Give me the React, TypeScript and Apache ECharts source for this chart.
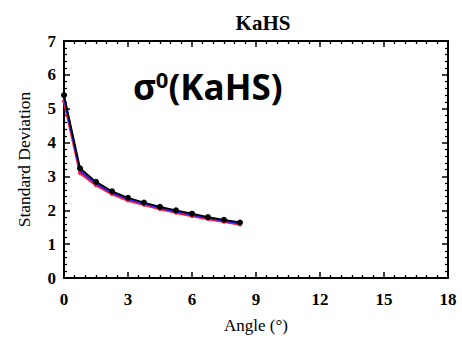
import React, { useEffect, useRef } from "react";
import * as echarts from "echarts";

const angles = [0, 0.75, 1.5, 2.25, 3.0, 3.75, 4.5, 5.25, 6.0, 6.75, 7.5, 8.25];
const blackVals = [5.4, 3.24, 2.84, 2.56, 2.37, 2.23, 2.1, 2.0, 1.9, 1.8, 1.72, 1.64];
const blueVals = [5.32, 3.17, 2.79, 2.52, 2.33, 2.2, 2.07, 1.96, 1.87, 1.77, 1.69, 1.61];
const redVals = [5.22, 3.1, 2.74, 2.48, 2.29, 2.16, 2.04, 1.93, 1.83, 1.74, 1.66, 1.58];
const xTicks = [0, 3, 6, 9, 12, 15, 18];
const yTicks = [0, 1, 2, 3, 4, 5, 6, 7];

const serif = "'Liberation Serif', 'DejaVu Serif', serif";

export default function App() {
  const ref = useRef<HTMLDivElement>(null);
  useEffect(() => {
    if (!ref.current) return;
    const chart = echarts.init(ref.current, null, { renderer: "svg" });
    const pair = (ys: number[]) => angles.map((a, i) => [a, ys[i]]);
    const axisCommon = {
      axisLine: { show: true, onZero: false, lineStyle: { color: "#000", width: 2 } },
      axisTick: { show: true, inside: true, length: 6, lineStyle: { color: "#000", width: 1.5 } },
      minorTick: { show: true, length: 3, lineStyle: { color: "#000", width: 1.3 } },
      splitLine: { show: false },
    };
    chart.setOption({
      animation: false,
      title: {
        text: "KaHS",
        left: 258,
        textAlign: "center",
        top: 7,
        textStyle: { fontFamily: serif, fontWeight: "bold", fontSize: 21, color: "#000" },
      },
      grid: { left: 64, right: 14, top: 41, bottom: 62 },
      xAxis: [
        {
          type: "value",
          min: 0,
          max: 18,
          interval: 3,
          name: "Angle (°)",
          nameLocation: "middle",
          nameGap: 39,
          nameTextStyle: { fontFamily: serif, fontSize: 17, color: "#000" },
          axisLabel: {
            fontFamily: serif,
            fontWeight: "bold",
            fontSize: 17,
            color: "#000",
            margin: 13,
            formatter: (v: number) => (xTicks.includes(v) ? String(v) : ""),
          },
          ...axisCommon,
          minorTick: { ...axisCommon.minorTick, splitNumber: 6 },
        },
        {
          type: "value",
          position: "top",
          min: 0,
          max: 18,
          interval: 3,
          axisLabel: { show: false },
          ...axisCommon,
          minorTick: { ...axisCommon.minorTick, splitNumber: 6 },
        },
      ],
      yAxis: [
        {
          type: "value",
          min: 0,
          max: 7,
          interval: 1,
          name: "Standard Deviation",
          nameLocation: "middle",
          nameGap: 31,
          nameTextStyle: { fontFamily: serif, fontSize: 17.5, color: "#000" },
          axisLabel: {
            fontFamily: serif,
            fontWeight: "bold",
            fontSize: 17,
            color: "#000",
            margin: 8,
            formatter: (v: number) => (yTicks.includes(v) ? String(v) : ""),
          },
          ...axisCommon,
          minorTick: { ...axisCommon.minorTick, splitNumber: 5 },
        },
        {
          type: "value",
          position: "right",
          min: 0,
          max: 7,
          interval: 1,
          axisLabel: { show: false },
          ...axisCommon,
          minorTick: { ...axisCommon.minorTick, splitNumber: 5 },
        },
      ],
      graphic: [
        {
          type: "text",
          left: 133,
          top: 68,
          style: {
            text: "{s|σ}{sup|0}{s|(KaHS)}",
            rich: {
              s: { fontFamily: "'Open Sans', sans-serif", fontWeight: "bold", fontSize: 35, fill: "#000" },
              sup: {
                fontFamily: "'Open Sans', sans-serif",
                fontWeight: "bold",
                fontSize: 22,
                fill: "#000",
                verticalAlign: "top",
                padding: [0, 0, 14, 0],
              },
            },
          },
        },
      ],
      series: [
        {
          type: "line",
          data: pair(redVals),
          symbol: "circle",
          symbolSize: 4,
          itemStyle: { color: "#ff1a3a" },
          lineStyle: { color: "#ff1a3a", width: 2.5 },
          z: 2,
        },
        {
          type: "line",
          data: pair(blueVals),
          symbol: "none",
          lineStyle: { color: "#2020ff", width: 2 },
          z: 3,
        },
        {
          type: "line",
          data: pair(blackVals),
          symbol: "circle",
          symbolSize: 6,
          itemStyle: { color: "#000" },
          lineStyle: { color: "#000", width: 1.8 },
          z: 4,
        },
      ],
    });
    return () => chart.dispose();
  }, []);
  return (
    <div
      ref={ref}
      style={{ position: "absolute", left: 0, top: 0, width: 462, height: 340 }}
    />
  );
}
